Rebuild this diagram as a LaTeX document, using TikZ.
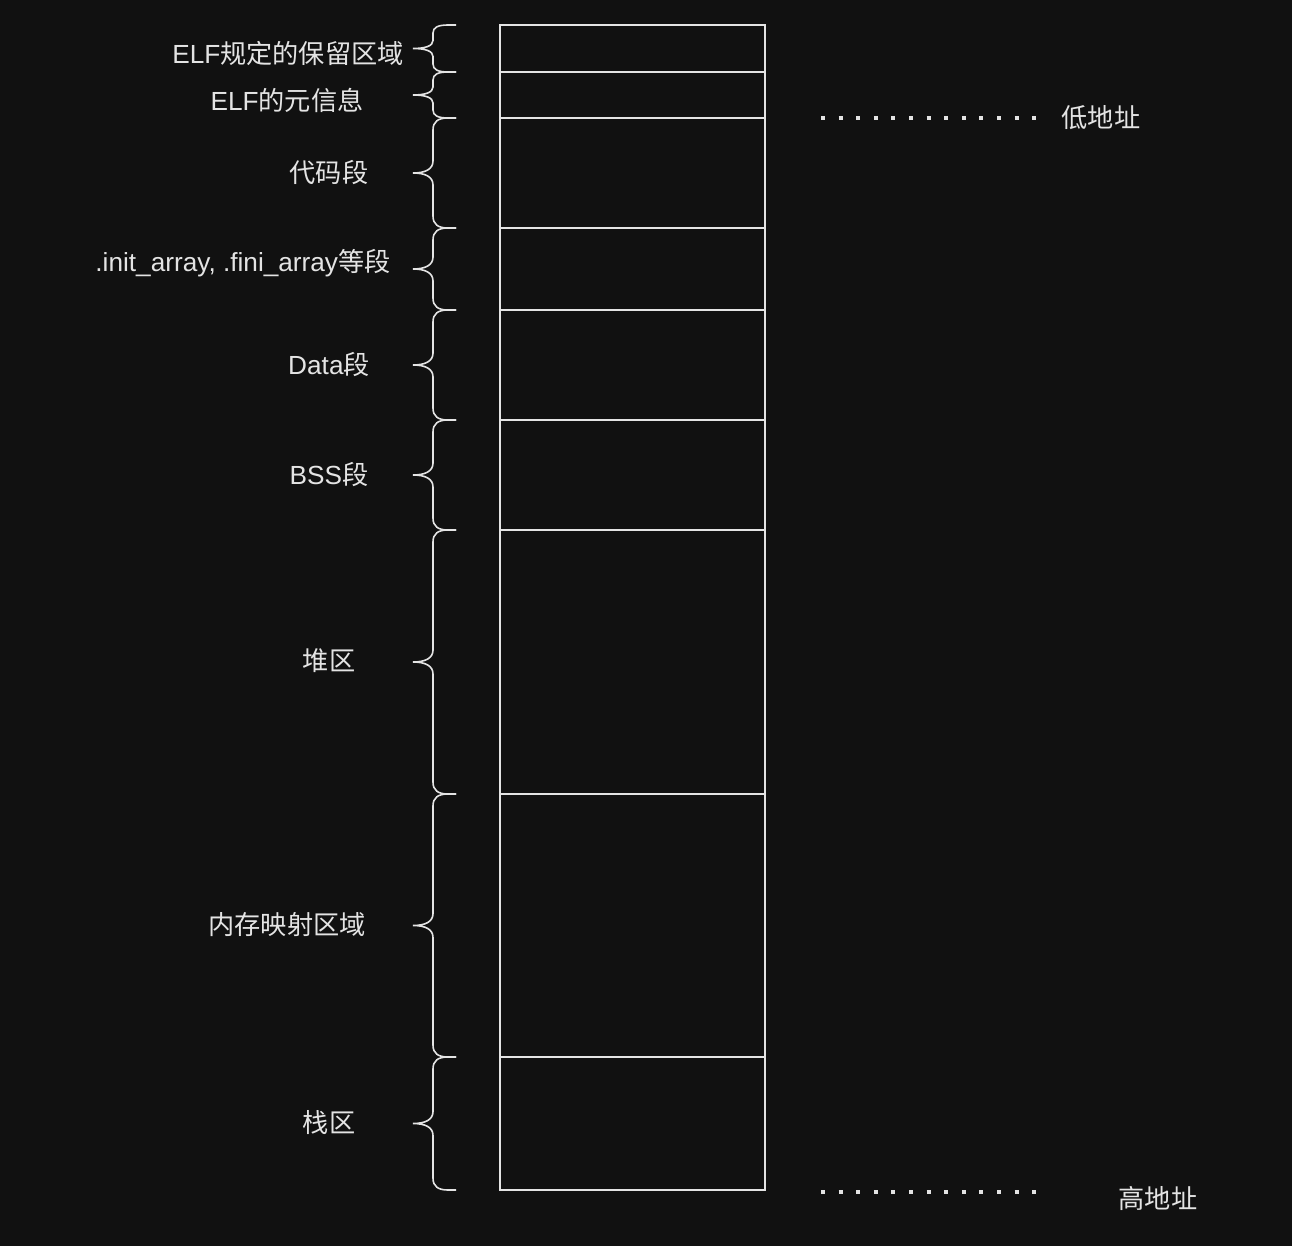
\documentclass[tikz,border=0pt]{standalone}
\usepackage{fontspec}
\setmainfont{Liberation Sans}
\newfontfamily\cjk{Noto Sans CJK SC}
\usetikzlibrary{positioning}
\definecolor{bg}{HTML}{111111}
\definecolor{ink}{HTML}{E4E4E4}
\newcommand{\segbrace}[2][12]{%
\draw[curly] ([shift={(-44,0)}]#2.north west) -- ++(-8,0)
  .. controls +(-10,0) and +(0,-#1*0.7) .. ++(-15,#1)
  -- ([shift={(-67,-#1)}]#2.west)
  .. controls +(0,#1*0.7) and +(12,0) .. ++(-20,#1)
  .. controls +(12,0) and +(0,-#1*0.7) .. ++(20,#1)
  -- ([shift={(-67,-#1)}]#2.south west)
  .. controls +(0,#1*0.7) and +(-10,0) .. ++(15,#1)
  -- ++(8,0);}
\begin{document}
\begin{tikzpicture}[x=1pt,y=-1pt,
   seg/.style={draw=ink,line width=2pt,minimum width=265pt,inner sep=0pt,outer sep=0pt},
   curly/.style={draw=ink,line width=1.6pt},
   lbl/.style={text=ink,font=\fontsize{26.2}{31}\selectfont,inner sep=0pt},
   dots/.style={draw=ink,line width=4pt,dash pattern=on 4pt off 13.6pt}]

\useasboundingbox[fill=bg] (0,0) rectangle (1292,1246);

\node[seg,minimum height=47pt] (elfres) at (632.5,48.5) {};
\node[seg,minimum height=46pt,below=0pt of elfres] (elfmeta) {};
\node[seg,minimum height=110pt,below=0pt of elfmeta] (text) {};
\node[seg,minimum height=82pt,below=0pt of text] (initfini) {};
\node[seg,minimum height=110pt,below=0pt of initfini] (data) {};
\node[seg,minimum height=110pt,below=0pt of data] (bss) {};
\node[seg,minimum height=264pt,below=0pt of bss] (heap) {};
\node[seg,minimum height=263pt,below=0pt of heap] (mmap) {};
\node[seg,minimum height=133pt,below=0pt of mmap] (stack) {};

\segbrace[8]{elfres}
\segbrace[8]{elfmeta}
\segbrace{text}
\segbrace{initfini}
\segbrace{data}
\segbrace{bss}
\segbrace{heap}
\segbrace{mmap}
\segbrace{stack}

\node[lbl] (elfreslbl) at (288,53) {ELF{\cjk 规定的保留区域}};
\node[lbl] (elfmetalbl) at (287,100) {ELF{\cjk 的元信息}};
\node[lbl] (textlbl) at (329,173) {\cjk 代码段};
\node[lbl] (initfinilbl) at (243,263) {.init\_array, .fini\_array{\cjk 等段}};
\node[lbl] (datalbl) at (329,365) {Data{\cjk 段}};
\node[lbl] (bsslbl) at (329,475) {BSS{\cjk 段}};
\node[lbl] (heaplbl) at (329,661) {\cjk 堆区};
\node[lbl] (mmaplbl) at (287,925) {\cjk 内存映射区域};
\node[lbl] (stacklbl) at (329,1123) {\cjk 栈区};

\coordinate (lowstart) at (821,118);
\coordinate (lowend) at (1037,118);
\node[lbl] (low) at (1101,118) {\cjk 低地址};
\draw[dots] (lowstart) -- (lowend);

\coordinate (highstart) at (821,1192);
\coordinate (highend) at (1037,1192);
\node[lbl] (high) at (1158,1198) {\cjk 高地址};
\draw[dots] (highstart) -- (highend);

\end{tikzpicture}
\end{document}
